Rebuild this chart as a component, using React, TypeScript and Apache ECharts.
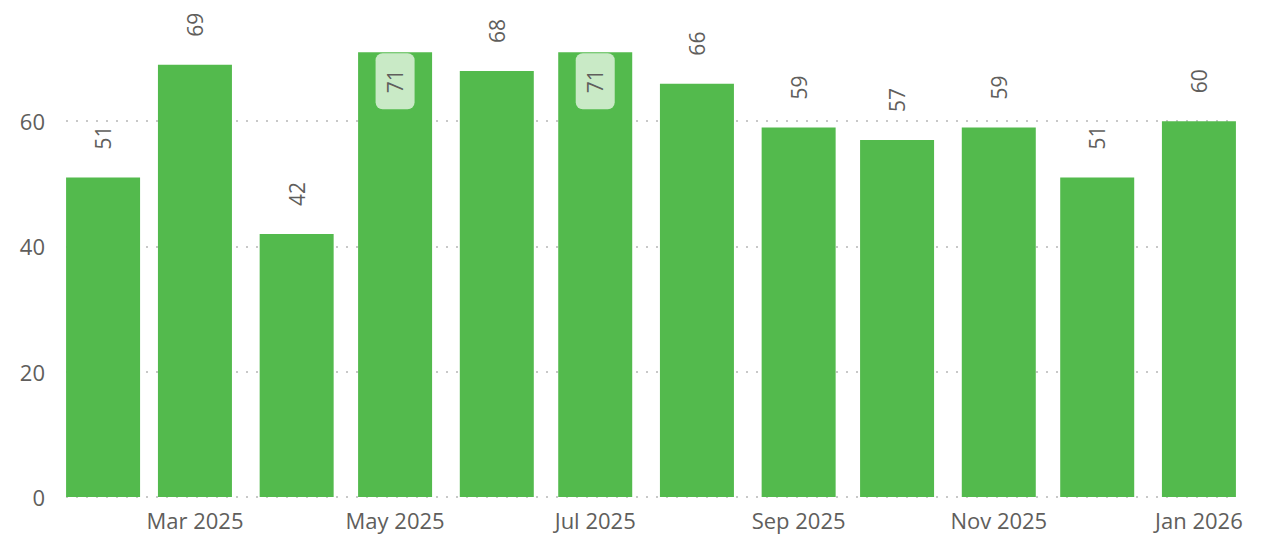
import React, { useEffect, useRef } from "react";
import * as echarts from "echarts";

const months: [number, number][] = [
  [2025, 1], [2025, 2], [2025, 3], [2025, 4], [2025, 5], [2025, 6],
  [2025, 7], [2025, 8], [2025, 9], [2025, 10], [2025, 11], [2026, 0],
];
const values: number[] = [51, 69, 42, 71, 68, 71, 66, 59, 57, 59, 51, 60];
const labelMonths: [number, number][] = [
  [2025, 2], [2025, 4], [2025, 6], [2025, 8], [2025, 10], [2026, 0],
];
const monthNames = ["Jan", "Feb", "Mar", "Apr", "May", "Jun", "Jul", "Aug", "Sep", "Oct", "Nov", "Dec"];
const yTicks = [0, 20, 40, 60];

const DAY = 86400000;
const ts = (m: [number, number]) => new Date(m[0], m[1], 1).getTime();

export default function App() {
  const ref = useRef<HTMLDivElement>(null);
  useEffect(() => {
    const chart = echarts.init(ref.current!, null, { renderer: "svg" });
    const maxVal = Math.max(...values);
    const data = months.map((m, i) => {
      const v = values[i];
      const isMax = v === maxVal;
      return {
        value: [ts(m), v],
        label: isMax
          ? {
              position: "insideTop",
              rotate: 90,
              align: "right",
              verticalAlign: "middle",
              distance: 1,
              backgroundColor: "#c9eac6",
              borderRadius: 7,
              padding: [9, 16, 9, 16],
            }
          : undefined,
      };
    });
    chart.setOption({
      animation: false,
      grid: { left: 66, right: 39, top: 21, bottom: 40 },
      xAxis: {
        type: "value",
        scale: true,
        min: ts(months[0]) - 11.3 * DAY,
        max: ts(months[months.length - 1]) + 11.3 * DAY,
        axisLine: { show: false },
        axisTick: { show: false },
        splitLine: { show: false },
        axisLabel: {
          customValues: labelMonths.map(ts),
          formatter: (val: number) => {
            const d = new Date(val);
            return monthNames[d.getMonth()] + " " + d.getFullYear();
          },
          color: "#605e5c",
          fontSize: 22,
          fontFamily: "'Segoe UI', 'Open Sans', sans-serif",
          margin: 12,
          hideOverlap: false,
          showMinLabel: true,
          showMaxLabel: true,
        },
      },
      yAxis: {
        type: "value",
        min: yTicks[0],
        max: 76,
        interval: 20,
        axisLine: { show: false },
        axisTick: { show: false },
        axisLabel: {
          color: "#605e5c",
          fontSize: 22,
          fontFamily: "'Segoe UI', 'Open Sans', sans-serif",
          margin: 21,
          showMaxLabel: false,
        },
        splitLine: {
          show: true,
          showMinLine: true,
          showMaxLine: false,
          lineStyle: { color: "#c8c8c8", type: [2, 8], width: 2 },
        },
      },
      series: [
        {
          type: "bar",
          barWidth: 74,
          itemStyle: { color: "#53ba4d" },
          label: {
            show: true,
            position: "top",
            rotate: 90,
            align: "left",
            verticalAlign: "middle",
            distance: 28,
            color: "#605e5c",
            fontSize: 21,
            fontFamily: "'Segoe UI', 'Open Sans', sans-serif",
          },
          data,
        },
      ],
    });
    return () => chart.dispose();
  }, []);
  return (
    <div
      ref={ref}
      style={{ position: "fixed", left: 0, top: 0, width: 1275, height: 537, background: "#fff" }}
    />
  );
}
